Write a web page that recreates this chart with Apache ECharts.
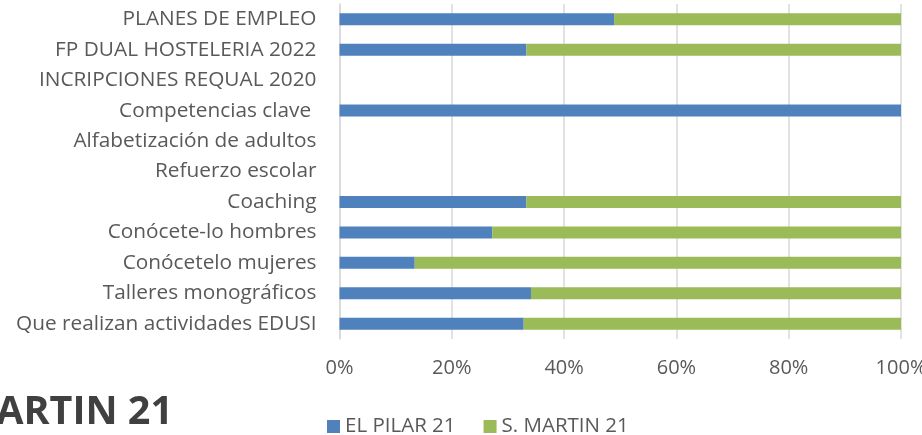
<!DOCTYPE html>
<html>
<head>
<meta charset="utf-8">
<script src="https://cdn.jsdelivr.net/npm/echarts@6/dist/echarts.min.js"></script>
<style>
  html, body { margin: 0; padding: 0; background: #fff; }
  #chart { width: 922px; height: 435px; }
</style>
</head>
<body>
<div id="chart"></div>
<script>
// categories, top to bottom
var categories = [
  "PLANES DE EMPLEO",
  "FP DUAL HOSTELERIA 2022",
  "INCRIPCIONES REQUAL 2020",
  "Competencias clave ",
  "Alfabetización de adultos",
  "Refuerzo escolar",
  "Coaching",
  "Conócete-lo hombres",
  "Conócetelo mujeres",
  "Talleres monográficos",
  "Que realizan actividades EDUSI"
];
// share of each group, in %
var elPilar = [48.9, 33.3, 0, 100, 0, 0, 33.3, 27.2, 13.4, 34.1, 32.8];
var sMartin = [51.1, 66.7, 0, 0, 0, 0, 66.7, 72.8, 86.6, 65.9, 67.2];
var seriesNames = ["EL PILAR 21", "S. MARTIN 21"];
var tickValues = [0, 20, 40, 60, 80, 100];

var labelFont = "'Open Sans', sans-serif";
var chart = echarts.init(document.getElementById("chart"));
chart.setOption({
  animation: false,
  color: ["#4f81bd", "#9bbb59"],
  grid: {
    left: 339.5,
    right: 21,
    top: 4,
    bottom: 96,
    containLabel: false,
    outerBoundsMode: "none"
  },
  legend: {
    left: 322,
    top: 411,
    icon: "rect",
    itemWidth: 13,
    itemHeight: 13,
    itemGap: 28,
    textStyle: { color: "#595959", fontSize: 20.5, fontFamily: labelFont },
    data: seriesNames
  },
  graphic: [
    {
      type: "text",
      right: 749,
      top: 393,
      style: {
        text: "S. MARTIN 21",
        fill: "#404040",
        font: "bold 39.5px 'Open Sans', sans-serif"
      }
    }
  ],
  xAxis: {
    type: "value",
    min: tickValues[0],
    max: tickValues[tickValues.length - 1],
    interval: 20,
    axisLine: { show: false },
    axisTick: { show: false },
    splitLine: { lineStyle: { color: "#d9d9d9", width: 1.5 } },
    axisLabel: {
      formatter: "{value}%",
      color: "#595959",
      fontSize: 20,
      fontFamily: labelFont,
      margin: 19
    }
  },
  yAxis: {
    type: "category",
    inverse: true,
    data: categories,
    axisTick: { show: false },
    axisLine: { show: true, lineStyle: { color: "#d9d9d9", width: 1.5 } },
    axisLabel: {
      color: "#595959",
      fontSize: 20.8,
      fontFamily: labelFont,
      margin: 23
    }
  },
  series: [
    {
      name: seriesNames[0],
      type: "bar",
      stack: "total",
      barWidth: 12,
      data: elPilar
    },
    {
      name: seriesNames[1],
      type: "bar",
      stack: "total",
      barWidth: 12,
      data: sMartin
    }
  ]
});
</script>
</body>
</html>
